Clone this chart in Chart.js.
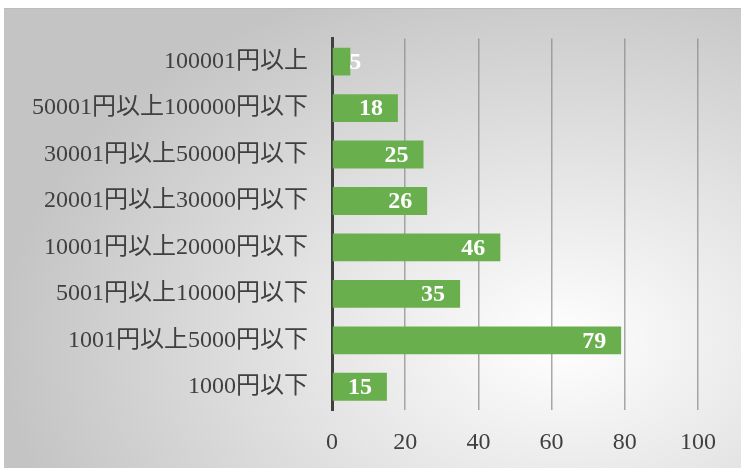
<!DOCTYPE html>
<html>
<head>
<meta charset="utf-8">
<script src="https://cdn.jsdelivr.net/npm/chart.js@4.4.1/dist/chart.umd.min.js"></script>
<style>
  body { margin: 0; background: #fff; }
  #wrap { position: relative; width: 741px; height: 470px; }
  #panel {
    position: absolute; left: 4px; top: 8px; width: 737px; height: 460px;
    border-top: 1px solid #bdbdbd;
    box-sizing: border-box;
    background: radial-gradient(ellipse 560px 380px at 556px 332px, #ffffff 0%, #c4c4c4 100%);
  }
  #chart { position: absolute; left: 0; top: 0; }
</style>
</head>
<body>
<div id="wrap">
  <div id="panel"></div>
  <canvas id="chart" width="741" height="470"></canvas>
</div>
<script>
// price bands, top to bottom
const categories = [
  "100001円以上",
  "50001円以上100000円以下",
  "30001円以上50000円以下",
  "20001円以上30000円以下",
  "10001円以上20000円以下",
  "5001円以上10000円以下",
  "1001円以上5000円以下",
  "1000円以下",
];
const counts = [5, 18, 25, 26, 46, 35, 79, 15];
const xTicks = [0, 20, 40, 60, 80, 100];

const serif = "'Liberation Serif', 'Noto Sans CJK JP', serif";
Chart.defaults.font.family = serif;
Chart.defaults.font.size = 24;
Chart.defaults.color = "#404040";

// white value labels at the end of each bar
const barLabels = {
  id: "barLabels",
  afterDatasetsDraw(chart) {
    const ctx = chart.ctx;
    const meta = chart.getDatasetMeta(0);
    ctx.save();
    ctx.font = "bold 24px " + serif;
    ctx.fillStyle = "#ffffff";
    ctx.textBaseline = "middle";
    meta.data.forEach((bar, i) => {
      const text = String(counts[i]);
      const w = ctx.measureText(text).width;
      if (bar.x - bar.base < w + 24) {
        ctx.textAlign = "left";
        ctx.fillText(text, bar.x - 1, bar.y + 1);
      } else {
        ctx.textAlign = "right";
        ctx.fillText(text, bar.x - 15, bar.y + 1);
      }
    });
    ctx.restore();
  },
};

new Chart(document.getElementById("chart").getContext("2d"), {
  type: "bar",
  data: {
    labels: categories,
    datasets: [
      {
        data: counts,
        backgroundColor: "#6aaf4e",
        borderWidth: 0,
        barPercentage: 0.6,
        categoryPercentage: 1,
      },
    ],
  },
  options: {
    indexAxis: "y",
    responsive: false,
    animation: false,
    layout: { padding: { top: 38, right: 43, left: 0, bottom: 0 } },
    plugins: { legend: { display: false }, tooltip: { enabled: false } },
    scales: {
      x: {
        min: xTicks[0],
        max: xTicks[xTicks.length - 1],
        afterBuildTicks: (s) => { s.ticks = xTicks.map((v) => ({ value: v })); },
        afterFit: (s) => { s.height = 60; },
        border: { display: false },
        grid: { color: "rgba(140,140,140,0.75)", lineWidth: 1.5, drawTicks: false },
        ticks: { padding: 18 },
      },
      y: {
        afterFit: (s) => { s.width = 332; },
        border: { color: "#404040", width: 3 },
        grid: { display: false, drawTicks: false },
        ticks: { padding: 24 },
      },
    },
  },
  plugins: [barLabels],
});
</script>
</body>
</html>
